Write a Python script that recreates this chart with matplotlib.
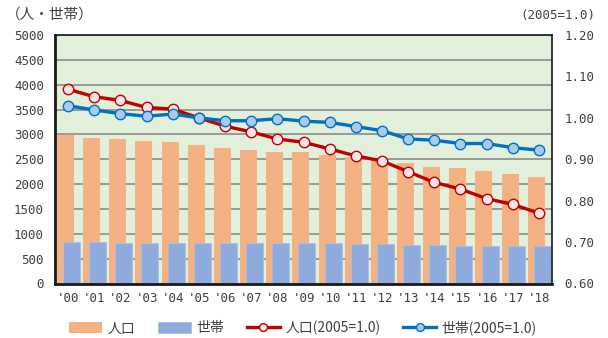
import matplotlib.pyplot as plt
import numpy as np

plt.rcParams['font.family'] = ['Noto Sans CJK JP', 'DejaVu Sans']

# 年次
years = ["'00", "'01", "'02", "'03", "'04", "'05", "'06", "'07", "'08", "'09",
         "'10", "'11", "'12", "'13", "'14", "'15", "'16", "'17", "'18"]
# 人口・世帯数
jinko = [2980, 2935, 2905, 2865, 2840, 2785, 2735, 2690, 2645, 2640,
         2590, 2545, 2490, 2425, 2350, 2320, 2255, 2205, 2150]
setai = [835, 835, 812, 810, 812, 810, 808, 808, 810, 808,
         812, 790, 788, 768, 766, 764, 764, 760, 756]
# 2005年=1.0 の指数
jinko_idx = [1.069, 1.051, 1.042, 1.025, 1.021, 1.000, 0.980, 0.966, 0.949, 0.941,
             0.925, 0.908, 0.896, 0.870, 0.844, 0.828, 0.805, 0.791, 0.770]
setai_idx = [1.029, 1.019, 1.010, 1.004, 1.009, 1.000, 0.993, 0.993, 0.998, 0.992,
             0.989, 0.979, 0.969, 0.949, 0.946, 0.938, 0.938, 0.928, 0.922]

left_ticks = [0, 500, 1000, 1500, 2000, 2500, 3000, 3500, 4000, 4500, 5000]
right_ticks = [0.60, 0.70, 0.80, 0.90, 1.00, 1.10, 1.20]

mono = 'DejaVu Sans Mono'
tcol = '#404040'

fig = plt.figure(figsize=(6.08, 3.38), dpi=100)
ax = fig.add_axes([55/608, 1 - 283.5/338, 497/608, 248.5/338])
ax.set_facecolor('#E2EFDA')

x = np.arange(len(years))
ax.bar(x - 0.1, jinko, width=0.65, color='#F4B183', label='人口', zorder=2)
ax.bar(x + 0.13, setai, width=0.65, color='#8FAADC', edgecolor='#A9C0E4',
       linewidth=0.6, label='世帯', zorder=2.1)

ax.set_xlim(-0.5, len(years) - 0.5)
ax.set_ylim(0, 5000)
ax.set_yticks(left_ticks)
ax.set_yticklabels([str(t) for t in left_ticks], fontfamily=mono, fontsize=9, color=tcol)
ax.set_xticks(x)
ax.set_xticklabels(years, fontfamily=mono, fontsize=9, color=tcol)
ax.tick_params(axis='y', length=0, pad=8)
ax.tick_params(axis='x', length=0, pad=6)
ax.yaxis.grid(True, color='#8C8C8C', linewidth=1.2, zorder=1)
ax.set_axisbelow(True)

for s in ['left', 'bottom']:
    ax.spines[s].set_linewidth(2.0)
    ax.spines[s].set_color('#1A1A1A')
for s in ['top', 'right']:
    ax.spines[s].set_linewidth(1.2)
    ax.spines[s].set_color('#1A1A1A')
for s in ax.spines.values():
    s.set_zorder(5)

ax2 = ax.twinx()
ax2.plot(x, jinko_idx, color='#C00000', linewidth=2.4, marker='o', markersize=7.5,
         markerfacecolor='#FDE4E4', markeredgecolor='#C00000', markeredgewidth=1.0,
         label='人口(2005=1.0)', zorder=3)
ax2.plot(x, setai_idx, color='#0070C0', linewidth=2.4, marker='o', markersize=7.5,
         markerfacecolor='#A9CCEE', markeredgecolor='#0070C0', markeredgewidth=1.0,
         label='世帯(2005=1.0)', zorder=4)
ax2.set_ylim(0.6, 1.2)
ax2.set_yticks(right_ticks)
ax2.set_yticklabels(['%.2f' % t for t in right_ticks], fontfamily=mono, fontsize=9, color=tcol)
ax2.tick_params(length=0, pad=9)
for s in ax2.spines.values():
    s.set_visible(False)

fig.text(6/608, 1 - 15/338, '（人・世帯）', fontsize=10.5, color=tcol, va='center', ha='left')
fig.text(595/608, 1 - 15/338, '(2005=1.0)', fontfamily=mono, fontsize=9, color=tcol,
         va='center', ha='right')

h1, l1 = ax.get_legend_handles_labels()
h2, l2 = ax2.get_legend_handles_labels()
fig.legend(h1 + h2, l1 + l2, loc='center', bbox_to_anchor=(303/608, 1 - 328/338),
           ncol=4, frameon=False, fontsize=10, handlelength=2.4, handleheight=0.8,
           columnspacing=1.6, handletextpad=0.4, labelcolor=tcol, markerscale=0.75)

fig.savefig('out.png', dpi=100)
